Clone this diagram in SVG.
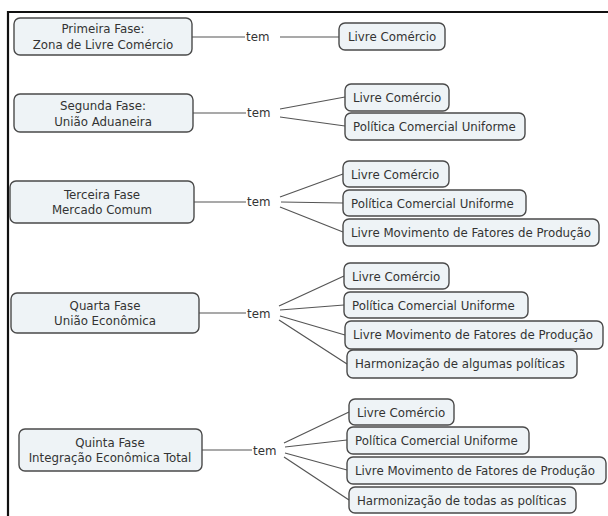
<svg xmlns="http://www.w3.org/2000/svg" width="608" height="516" viewBox="0 0 608 516">
<style>
.box{fill:#eef3f6;stroke:#4a4a4a;stroke-width:1.4}
.t{font-family:"DejaVu Sans",Verdana,sans-serif;font-size:11.8px;fill:#333}
.c{text-anchor:middle}
.ln{stroke:#555;stroke-width:1.2;fill:none}
</style>
<rect width="608" height="516" fill="#fff"/>
<path d="M8 516V12H608" fill="none" stroke="#111" stroke-width="2.2"/>

<g id="connectors">
<path class="ln" d="M192 37H245M280 37H339"/>
<path class="ln" d="M193 113H246M280 109L345 97M280 117L345 126"/>
<path class="ln" d="M194 202H246M280 197L343 174M281 202L343 203M280 207L343 232"/>
<path class="ln" d="M199 313H246M279 306L344 276M280 310L344 305M280 316L345 335M279 320L347 364"/>
<path class="ln" d="M202 450H252M284 443L349 412M285 447L347 440M285 453L347 470M284 457L349 500"/>
<text class="t" x="246" y="41">tem</text>
<text class="t" x="247" y="117">tem</text>
<text class="t" x="247" y="206">tem</text>
<text class="t" x="247" y="318">tem</text>
<text class="t" x="253" y="455">tem</text>
</g>

<g id="n1"><rect class="box" x="14" y="18" width="178" height="37" rx="6"/>
<text class="t c" x="103" y="33">Primeira Fase:</text><text class="t c" x="103" y="49">Zona de Livre Comércio</text></g>
<g id="n1a"><rect class="box" x="339" y="23" width="106" height="27" rx="6"/><text class="t" x="348" y="41">Livre Comércio</text></g>

<g id="n2"><rect class="box" x="14" y="94" width="179" height="38" rx="6"/>
<text class="t c" x="103" y="110">Segunda Fase:</text><text class="t c" x="103" y="126">União Aduaneira</text></g>
<g id="n2a"><rect class="box" x="345" y="84" width="104" height="27" rx="6"/><text class="t" x="353" y="102">Livre Comércio</text></g>
<g id="n2b"><rect class="box" x="345" y="113" width="180" height="27" rx="6"/><text class="t" x="353" y="131">Política Comercial Uniforme</text></g>

<g id="n3"><rect class="box" x="10" y="181" width="184" height="42" rx="6"/>
<text class="t c" x="102" y="199">Terceira Fase</text><text class="t c" x="102" y="214">Mercado Comum</text></g>
<g id="n3a"><rect class="box" x="343" y="161" width="106" height="26" rx="6"/><text class="t" x="351" y="179">Livre Comércio</text></g>
<g id="n3b"><rect class="box" x="343" y="190" width="183" height="26" rx="6"/><text class="t" x="351" y="208">Política Comercial Uniforme</text></g>
<g id="n3c"><rect class="box" x="343" y="219" width="256" height="27" rx="6"/><text class="t" x="351" y="237">Livre Movimento de Fatores de Produção</text></g>

<g id="n4"><rect class="box" x="11" y="293" width="188" height="40" rx="6"/>
<text class="t c" x="105" y="310">Quarta Fase</text><text class="t c" x="105" y="325">União Econômica</text></g>
<g id="n4a"><rect class="box" x="344" y="263" width="105" height="26" rx="6"/><text class="t" x="352" y="281">Livre Comércio</text></g>
<g id="n4b"><rect class="box" x="344" y="292" width="184" height="26" rx="6"/><text class="t" x="352" y="310">Política Comercial Uniforme</text></g>
<g id="n4c"><rect class="box" x="345" y="321" width="258" height="28" rx="6"/><text class="t" x="353" y="339">Livre Movimento de Fatores de Produção</text></g>
<g id="n4d"><rect class="box" x="347" y="350" width="230" height="28" rx="6"/><text class="t" x="355" y="368">Harmonização de algumas políticas</text></g>

<g id="n5"><rect class="box" x="19" y="429" width="183" height="42" rx="6"/>
<text class="t c" x="110" y="447">Quinta Fase</text><text class="t c" x="110" y="462">Integração Econômica Total</text></g>
<g id="n5a"><rect class="box" x="349" y="399" width="105" height="26" rx="6"/><text class="t" x="357" y="417">Livre Comércio</text></g>
<g id="n5b"><rect class="box" x="347" y="427" width="182" height="27" rx="6"/><text class="t" x="355" y="445">Política Comercial Uniforme</text></g>
<g id="n5c"><rect class="box" x="347" y="457" width="259" height="27" rx="6"/><text class="t" x="355" y="475">Livre Movimento de Fatores de Produção</text></g>
<g id="n5d"><rect class="box" x="349" y="487" width="227" height="26" rx="6"/><text class="t" x="357" y="505">Harmonização de todas as políticas</text></g>
</svg>
